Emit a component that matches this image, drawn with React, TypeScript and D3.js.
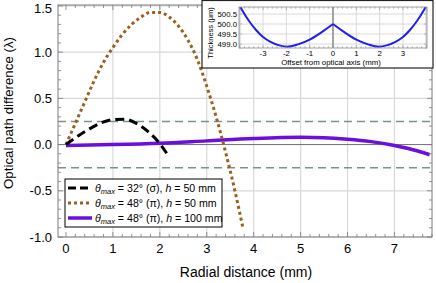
import React from 'react';
import { scaleLinear, line, curveMonotoneX, curveCatmullRom, range } from 'd3';

// Main chart data
const sigma50X = [0, 0.25, 0.5, 0.75, 1.0, 1.25, 1.5, 1.75, 2.0, 2.18];
const sigma50Y = [0, 0.09, 0.17, 0.235, 0.27, 0.275, 0.23, 0.14, 0.01, -0.12];

const pi50X = [0, 0.2, 0.4, 0.6, 0.8, 1.0, 1.2, 1.4, 1.6, 1.8, 2.0, 2.2, 2.4, 2.6, 2.8, 3.0, 3.2, 3.4, 3.6, 3.77];
const pi50Y = [0, 0.23, 0.46, 0.69, 0.89, 1.05, 1.19, 1.3, 1.38, 1.43, 1.43, 1.38, 1.28, 1.13, 0.92, 0.63, 0.3, -0.08, -0.5, -0.9];

const pi100X = [0, 1, 2, 3, 4, 5, 5.5, 6, 6.5, 7, 7.5, 7.75];
const pi100Y = [-0.01, 0.0, 0.015, 0.04, 0.065, 0.078, 0.074, 0.058, 0.032, -0.01, -0.07, -0.11];

const toleranceLevels = [0.25, -0.25];

const xTicks = [0, 1, 2, 3, 4, 5, 6, 7];
const yTicks = [-1.0, -0.5, 0.0, 0.5, 1.0, 1.5];

// Inset data: thickness profile
const insetX = [-4.03, -3.9, -3.6, -3.3, -3.0, -2.7, -2.3, -1.9, -1.5, -1.0, -0.5, 0, 0.5, 1.0, 1.5, 1.9, 2.3, 2.7, 3.0, 3.3, 3.6, 3.9, 4.03];
const insetY = [501.0, 500.7, 500.15, 499.7, 499.35, 499.12, 498.93, 498.87, 498.98, 499.22, 499.58, 500.0, 499.58, 499.22, 498.98, 498.87, 498.93, 499.12, 499.35, 499.7, 500.15, 500.7, 501.0];
const insetXTicks = [-3, -2, -1, 0, 1, 2, 3];
const insetYTicks = [499.0, 499.5, 500.0, 500.5];

const FONT = 'Liberation Sans, Arial, sans-serif';
const W = 436;
const H = 283;

type Pt = [number, number];
const zip = (xs: number[], ys: number[]): Pt[] => xs.map((x, i) => [x, ys[i]]);

export default function App() {
  // main plot frame
  const left = 58, right = 432, top = 5, bottom = 237;
  const x = scaleLinear().domain([-0.17, 7.8]).range([left, right]);
  const y = scaleLinear().domain([-1.0, 1.51]).range([bottom, top]);
  const ln = line<Pt>().x(d => x(d[0])).y(d => y(d[1])).curve(curveMonotoneX);

  const xMinor = range(-0.2, 7.81, 0.2).filter(v => x(v) >= left && x(v) <= right);
  const yMinor = range(-1.0, 1.51, 0.1);

  // inset frame
  const il = 239, ir = 427, it = 7, ib = 48;
  const ix = scaleLinear().domain([-4.03, 4.03]).range([il, ir]);
  const iy = scaleLinear().domain([498.8, 500.85]).range([ib, it]);
  const iln = line<Pt>().x(d => ix(d[0])).y(d => iy(d[1])).curve(curveCatmullRom);
  const insetPts = zip(insetX, insetY);
  const insetLeft = insetPts.filter(p => p[0] <= 0);
  const insetRight = insetPts.filter(p => p[0] >= 0);
  const ixMinor = range(-4.0, 4.01, 0.2);
  const iyMinor = range(498.8, 500.85, 0.1);

  const legendRows = [
    { color: '#000', dash: '8,4', width: 3, theta: '32', pol: 'σ', h: '50' },
    { color: '#9c5f1f', dash: '3,3', width: 3, theta: '48', pol: 'π', h: '50' },
    { color: '#6b10dc', dash: undefined, width: 3.5, theta: '48', pol: 'π', h: '100' },
  ];

  return (
    <svg width={W} height={H} style={{ position: 'absolute', left: 0, top: 0 }} fontFamily={FONT}>
      <rect x={0} y={0} width={W} height={H} fill="#fff" />
      <defs>
        <clipPath id="mainClip"><rect x={left} y={top} width={right - left} height={bottom - top} /></clipPath>
        <clipPath id="insetClip"><rect x={il} y={it} width={ir - il} height={ib - it} /></clipPath>
      </defs>

      {/* grid */}
      {xTicks.filter(v => v !== 0).map(v => (
        <line key={'gx' + v} x1={x(v)} x2={x(v)} y1={top} y2={bottom} stroke="#d9d9d9" strokeWidth={1.2} />
      ))}
      {yTicks.filter(v => v !== 0).map(v => (
        <line key={'gy' + v} x1={left} x2={right} y1={y(v)} y2={y(v)} stroke="#d9d9d9" strokeWidth={1.2} />
      ))}
      <line x1={left} x2={right} y1={y(0)} y2={y(0)} stroke="#707070" strokeWidth={1} />

      {/* tolerance lines */}
      {toleranceLevels.map(v => (
        <line key={'t' + v} x1={left} x2={right} y1={y(v)} y2={y(v)} stroke="#7b9090" strokeWidth={1.5} strokeDasharray="8,5" />
      ))}

      {/* curves */}
      <g clipPath="url(#mainClip)" fill="none">
        <path d={ln(zip(pi100X, pi100Y)) || ''} stroke="#6b10dc" strokeWidth={3.5} />
        <path d={ln(zip(pi50X, pi50Y)) || ''} stroke="#9c5f1f" strokeWidth={3} strokeDasharray="3,3" />
        <path d={ln(zip(sigma50X, sigma50Y)) || ''} stroke="#000" strokeWidth={3} strokeDasharray="9,5" />
      </g>

      {/* frame and ticks */}
      <rect x={left} y={top} width={right - left} height={bottom - top} fill="none" stroke="#7a7a7a" strokeWidth={1} />
      {xMinor.map(v => {
        const major = Math.abs(v - Math.round(v)) < 1e-6;
        const len = major ? 5 : 3;
        return (
          <g key={'xm' + v.toFixed(1)} stroke="#7a7a7a" strokeWidth={0.8}>
            <line x1={x(v)} x2={x(v)} y1={bottom} y2={bottom - len} />
            <line x1={x(v)} x2={x(v)} y1={top} y2={top + len} />
          </g>
        );
      })}
      {yMinor.map(v => {
        const major = Math.abs(v * 2 - Math.round(v * 2)) < 1e-6;
        const len = major ? 5 : 3;
        return (
          <g key={'ym' + v.toFixed(1)} stroke="#7a7a7a" strokeWidth={0.8}>
            <line x1={left} x2={left + len} y1={y(v)} y2={y(v)} />
            <line x1={right} x2={right - len} y1={y(v)} y2={y(v)} />
          </g>
        );
      })}

      {/* tick labels */}
      {xTicks.map(v => (
        <text key={'xl' + v} x={x(v)} y={253} textAnchor="middle" fontSize={13} fill="#000">{v}</text>
      ))}
      {yTicks.map(v => (
        <text key={'yl' + v} x={52} y={Math.max(y(v), 8)} dy="0.35em" textAnchor="end" fontSize={13} fill="#000">{v.toFixed(1)}</text>
      ))}

      {/* axis titles */}
      <text x={246} y={277} textAnchor="middle" fontSize={14} fill="#000">Radial distance (mm)</text>
      <text transform="translate(13,113) rotate(-90)" textAnchor="middle" fontSize={13.3} fill="#000">Optical path difference (λ)</text>

      {/* legend */}
      <rect x={65} y={179} width={157} height={48} fill="#fff" stroke="#000" strokeWidth={1} />
      {legendRows.map((r, i) => {
        const ry = 188 + i * 15;
        return (
          <g key={'lg' + i}>
            <line x1={68} x2={92} y1={ry} y2={ry} stroke={r.color} strokeWidth={r.width} strokeDasharray={r.dash} />
            <text x={95} y={ry} dy="0.35em" fontSize={10.6} fill="#000">
              <tspan fontStyle="italic">θ</tspan>
              <tspan fontStyle="italic" fontSize={7.5} dy={2}>max</tspan>
              <tspan dy={-2}>{` = ${r.theta}° (${r.pol}), `}</tspan>
              <tspan fontStyle="italic">h</tspan>
              <tspan>{` = ${r.h} mm`}</tspan>
            </text>
          </g>
        );
      })}

      {/* inset */}
      <rect x={202} y={0.5} width={231} height={67.5} fill="#fff" stroke="#222" strokeWidth={1.2} />
      {insetXTicks.filter(v => v !== 0).map(v => (
        <line key={'igx' + v} x1={ix(v)} x2={ix(v)} y1={it} y2={ib} stroke="#d9d9d9" strokeWidth={1} />
      ))}
      {insetYTicks.map(v => (
        <line key={'igy' + v} x1={il} x2={ir} y1={iy(v)} y2={iy(v)} stroke="#d9d9d9" strokeWidth={1} />
      ))}
      <line x1={ix(0)} x2={ix(0)} y1={it} y2={ib} stroke="#9a9a9a" strokeWidth={1.8} />
      <g clipPath="url(#insetClip)" fill="none" stroke="#1f1ff0" strokeWidth={2}>
        <path d={iln(insetLeft) || ''} />
        <path d={iln(insetRight) || ''} />
      </g>
      <rect x={il} y={it} width={ir - il} height={ib - it} fill="none" stroke="#8a8a8a" strokeWidth={0.8} />
      {ixMinor.map(v => {
        const major = Math.abs(v - Math.round(v)) < 1e-6;
        const len = major ? 3 : 1.8;
        return (
          <g key={'ixm' + v.toFixed(1)} stroke="#8a8a8a" strokeWidth={0.6}>
            <line x1={ix(v)} x2={ix(v)} y1={ib} y2={ib - len} />
            <line x1={ix(v)} x2={ix(v)} y1={it} y2={it + len} />
          </g>
        );
      })}
      {iyMinor.map(v => {
        const major = Math.abs(v * 2 - Math.round(v * 2)) < 1e-6;
        const len = major ? 3 : 1.8;
        return (
          <g key={'iym' + v.toFixed(1)} stroke="#8a8a8a" strokeWidth={0.6}>
            <line x1={il} x2={il + len} y1={iy(v)} y2={iy(v)} />
            <line x1={ir} x2={ir - len} y1={iy(v)} y2={iy(v)} />
          </g>
        );
      })}
      {insetXTicks.map(v => (
        <text key={'ixl' + v} x={ix(v)} y={55.5} textAnchor="middle" fontSize={7.8} fill="#000">{v}</text>
      ))}
      {insetYTicks.map(v => (
        <text key={'iyl' + v} x={237} y={iy(v)} dy="0.35em" textAnchor="end" fontSize={7.8} fill="#000">{v.toFixed(1)}</text>
      ))}
      <text x={331} y={64.5} textAnchor="middle" fontSize={7.8} fill="#000">Offset from optical axis (mm)</text>
      <text transform="translate(213,33) rotate(-90)" textAnchor="middle" fontSize={7.5} fill="#000">Thickness (μm)</text>
    </svg>
  );
}
